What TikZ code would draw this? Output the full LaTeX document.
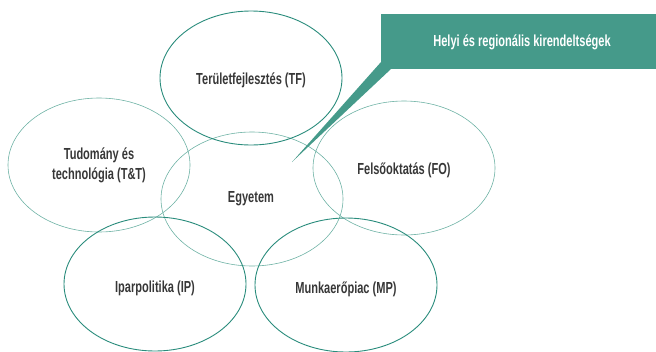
\documentclass[tikz,border=0pt]{standalone}
\usepackage{fontspec}
\setmainfont{Liberation Sans}[FakeStretch=0.69]
\usetikzlibrary{shapes.geometric}
\definecolor{tealdark}{RGB}{42,140,124}
\definecolor{teallight}{RGB}{110,178,165}
\definecolor{calloutfill}{RGB}{69,154,138}
\definecolor{txt}{RGB}{55,55,55}
\tikzset{
  circ/.style={ellipse, minimum width=182pt, minimum height=134pt, inner sep=0pt},
  darkc/.style={circ, draw=tealdark, line width=0.9pt},
  lightc/.style={circ, draw=teallight, line width=0.6pt},
  lbl/.style={text=txt, font=\fontsize{16}{20}\bfseries\selectfont, align=center},
}
\begin{document}
\begin{tikzpicture}[x=1pt,y=-1pt]
\useasboundingbox (0,0) rectangle (656,351);
% ellipses
\node[lightc] (tt) at (99,165) {};
\node[lightc] (egy) at (252,199) {};
\node[lightc] (fo) at (404,168) {};
\node[darkc] (tf) at (251,78) {};
\node[darkc] (ip) at (155,284) {};
\node[darkc] (mp) at (346,285) {};
% labels
\node[lbl] (ltf) at (251,80) {Területfejlesztés (TF)};
\node[lbl] (ltt) at (99,165) {Tudomány és\\technológia (T\&T)};
\node[lbl] (legy) at (251,199) {Egyetem};
\node[lbl] (lfo) at (404,170) {Felsőoktatás (FO)};
\node[lbl] (lip) at (155,288) {Iparpolitika (IP)};
\node[lbl] (lmp) at (346,289) {Munkaerőpiac (MP)};
% callout
\coordinate (tip) at (292,162);
\node[fill=calloutfill, minimum width=275pt, minimum height=55pt, inner sep=0pt, anchor=north west] (call) at (381,14) {};
\fill[calloutfill] (381,62) -- (tip) -- (391,69) -- (381,69) -- cycle;
\node[text=white, font=\fontsize{16}{19}\bfseries\selectfont] (lcall) at (522,42) {Helyi és regionális kirendeltségek};
\end{tikzpicture}
\end{document}
